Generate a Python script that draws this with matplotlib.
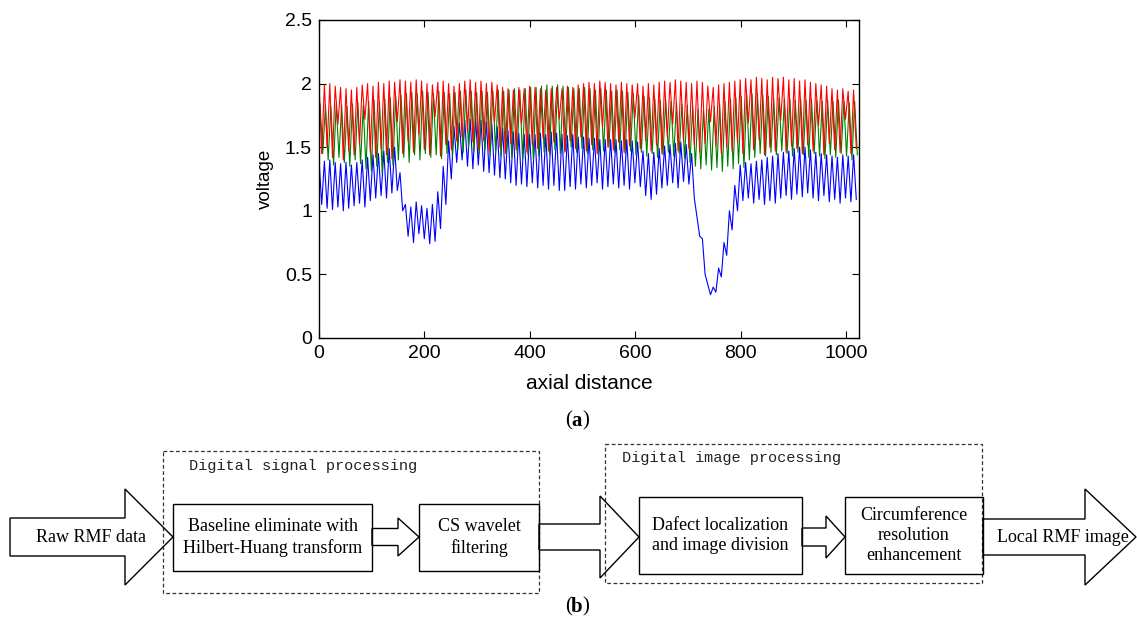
import numpy as np
import matplotlib
matplotlib.use("Agg")
import matplotlib.pyplot as plt
from matplotlib.patches import Polygon, Rectangle
from matplotlib.ticker import FixedLocator, FixedFormatter

# ---------------------------------------------------------------------------
# RMF sensor voltages: per-cycle peak / trough values (100 cycles, 1024 samples)
# ---------------------------------------------------------------------------
blue_high = [
    1.40, 1.39, 1.40, 1.38, 1.37, 1.38, 1.36, 1.38, 1.40, 1.42,
    1.44, 1.45, 1.47, 1.49, 1.50, 1.30, 1.05, 1.03, 1.07, 1.04,
    1.02, 1.05, 1.15, 1.35, 1.55, 1.66, 1.69, 1.71, 1.72, 1.73,
    1.71, 1.70, 1.68, 1.66, 1.65, 1.63, 1.62, 1.61, 1.60, 1.60,
    1.60, 1.61, 1.60, 1.62, 1.61, 1.60, 1.59, 1.60, 1.58, 1.58,
    1.57, 1.57, 1.56, 1.56, 1.56, 1.56, 1.55, 1.56, 1.55, 1.54,
    1.47, 1.45, 1.46, 1.49, 1.51, 1.52, 1.53, 1.54, 1.52, 1.45,
    0.95, 0.78, 0.42, 0.40, 0.55, 0.75, 1.00, 1.20, 1.36, 1.38,
    1.37, 1.39, 1.40, 1.42, 1.43, 1.45, 1.46, 1.47, 1.49, 1.50,
    1.50, 1.48, 1.46, 1.45, 1.44, 1.43, 1.42, 1.44, 1.43, 1.44,
]
blue_low = [
    1.05, 1.02, 1.01, 1.03, 1.00, 1.02, 1.04, 1.06, 1.03, 1.08,
    1.10, 1.12, 1.10, 1.14, 1.16, 1.00, 0.80, 0.75, 0.82, 0.78,
    0.74, 0.76, 0.86, 1.05, 1.25, 1.38, 1.40, 1.35, 1.33, 1.36,
    1.31, 1.30, 1.28, 1.26, 1.25, 1.22, 1.20, 1.21, 1.19, 1.22,
    1.18, 1.20, 1.17, 1.20, 1.16, 1.16, 1.19, 1.17, 1.21, 1.18,
    1.20, 1.22, 1.17, 1.19, 1.21, 1.18, 1.20, 1.17, 1.22, 1.19,
    1.12, 1.09, 1.13, 1.18, 1.20, 1.22, 1.18, 1.23, 1.21, 1.10,
    0.80, 0.50, 0.34, 0.36, 0.48, 0.65, 0.85, 1.00, 1.08, 1.10,
    1.06, 1.09, 1.05, 1.08, 1.06, 1.10, 1.12, 1.09, 1.13, 1.11,
    1.14, 1.10, 1.08, 1.12, 1.07, 1.09, 1.06, 1.10, 1.07, 1.09,
]
green_high = [
    1.84, 1.83, 1.82, 1.84, 1.83, 1.82, 1.84, 1.85, 1.83, 1.86,
    1.87, 1.86, 1.88, 1.89, 1.90, 1.91, 1.92, 1.93, 1.92, 1.94,
    1.93, 1.92, 1.94, 1.93, 1.92, 1.93, 1.94, 1.95, 1.94, 1.93,
    1.94, 1.93, 1.94, 1.95, 1.94, 1.95, 1.96, 1.95, 1.96, 1.97,
    1.97, 1.98, 1.99, 1.98, 1.99, 1.98, 1.97, 1.96, 1.96, 1.97,
    1.96, 1.95, 1.96, 1.95, 1.94, 1.95, 1.94, 1.93, 1.92, 1.91,
    1.90, 1.89, 1.88, 1.87, 1.87, 1.86, 1.85, 1.84, 1.83, 1.82,
    1.80, 1.79, 1.80, 1.82, 1.84, 1.86, 1.88, 1.89, 1.90, 1.91,
    1.92, 1.92, 1.91, 1.90, 1.89, 1.89, 1.88, 1.88, 1.87, 1.88,
    1.87, 1.88, 1.87, 1.86, 1.87, 1.86, 1.87, 1.86, 1.85, 1.86,
]
green_low = [
    1.45, 1.40, 1.36, 1.42, 1.38, 1.35, 1.40, 1.37, 1.33, 1.31,
    1.35, 1.30, 1.38, 1.36, 1.40, 1.42, 1.38, 1.44, 1.40, 1.45,
    1.42, 1.44, 1.41, 1.45, 1.43, 1.48, 1.46, 1.50, 1.47, 1.45,
    1.48, 1.44, 1.47, 1.43, 1.46, 1.42, 1.45, 1.41, 1.44, 1.40,
    1.43, 1.46, 1.44, 1.48, 1.45, 1.47, 1.50, 1.46, 1.49, 1.45,
    1.48, 1.44, 1.47, 1.50, 1.46, 1.48, 1.45, 1.47, 1.44, 1.46,
    1.43, 1.45, 1.42, 1.44, 1.46, 1.43, 1.45, 1.41, 1.38, 1.35,
    1.33, 1.36, 1.32, 1.34, 1.31, 1.35, 1.33, 1.37, 1.34, 1.40,
    1.42, 1.45, 1.43, 1.46, 1.44, 1.47, 1.45, 1.43, 1.46, 1.44,
    1.42, 1.45, 1.43, 1.41, 1.44, 1.42, 1.45, 1.43, 1.40, 1.44,
]
red_high = [
    2.01, 1.99, 2.00, 1.98, 1.97, 1.96, 1.95, 1.97, 1.99, 2.00,
    1.98, 2.01, 2.00, 2.02, 2.01, 2.03, 2.02, 2.01, 2.03, 2.02,
    2.00, 1.99, 2.01, 2.02, 2.00, 1.98, 2.00, 2.02, 2.03, 2.01,
    2.02, 2.00, 2.01, 1.99, 1.97, 1.96, 1.95, 1.97, 1.96, 1.98,
    1.97, 1.96, 1.95, 1.96, 1.97, 1.96, 1.98, 1.97, 1.99, 2.00,
    2.01, 2.00, 2.02, 2.01, 2.00, 1.99, 2.01, 2.00, 1.99, 2.00,
    1.98, 2.00, 1.99, 2.01, 2.02, 2.01, 2.03, 2.02, 2.01, 2.00,
    2.02, 2.01, 1.98, 1.97, 1.99, 2.00, 2.01, 2.02, 2.03, 2.04,
    2.03, 2.05, 2.04, 2.03, 2.05, 2.04, 2.05, 2.03, 2.04, 2.02,
    2.03, 2.01, 2.00, 1.99, 1.98, 1.96, 1.95, 1.96, 1.94, 1.95,
]
red_low = [
    1.45, 1.50, 1.42, 1.68, 1.40, 1.47, 1.44, 1.52, 1.72, 1.46,
    1.42, 1.49, 1.44, 1.41, 1.70, 1.45, 1.55, 1.46, 1.60, 1.48,
    1.44, 1.74, 1.43, 1.52, 1.48, 1.55, 1.58, 1.62, 1.54, 1.48,
    1.55, 1.47, 1.70, 1.50, 1.45, 1.53, 1.48, 1.68, 1.46, 1.52,
    1.49, 1.57, 1.47, 1.54, 1.72, 1.46, 1.55, 1.49, 1.58, 1.47,
    1.52, 1.45, 1.66, 1.50, 1.48, 1.54, 1.46, 1.51, 1.73, 1.49,
    1.55, 1.47, 1.52, 1.45, 1.58, 1.68, 1.47, 1.55, 1.49, 1.52,
    1.46, 1.53, 1.70, 1.51, 1.45, 1.50, 1.47, 1.54, 1.45, 1.69,
    1.48, 1.56, 1.44, 1.50, 1.47, 1.71, 1.46, 1.51, 1.49, 1.45,
    1.52, 1.47, 1.67, 1.44, 1.53, 1.48, 1.46, 1.72, 1.45, 1.49,
]

x_ticks = [0, 200, 400, 600, 800, 1000]
x_tick_labels = ["0", "200", "400", "600", "800", "1000"]
y_ticks = [0, 0.5, 1, 1.5, 2, 2.5]
y_tick_labels = ["0", "0.5", "1", "1.5", "2", "2.5"]

n_samples = 1024

# flowchart stages
stage_texts = [
    "Baseline eliminate with\nHilbert-Huang transform",
    "CS wavelet\nfiltering",
    "Dafect localization\nand image division",
    "Circumference\nresolution\nenhancement",
]
group_titles = ["Digital signal processing", "Digital image processing"]
input_label = "Raw RMF data"
output_label = "Local RMF image"


def zigzag(high, low, offset=0.0):
    """Alternate peak/trough values along the sample axis."""
    n = len(high)
    step = n_samples / n
    idx = np.arange(n) * step + offset
    xs = np.empty(2 * n)
    ys = np.empty(2 * n)
    xs[0::2] = idx
    xs[1::2] = idx + step / 2
    ys[0::2] = high
    ys[1::2] = low
    return xs, ys


W, H, DPI = 1137, 627, 100
fig = plt.figure(figsize=(W / DPI, H / DPI), dpi=DPI)
fig.patch.set_facecolor("white")

# ------------------------------ (a) signal plot ------------------------------
ax = fig.add_axes([319 / W, 1 - 338 / H, (859 - 319) / W, (338 - 20) / H])
for hi, lo, col, off in [
    (blue_high, blue_low, (0, 0, 1), 0.0),
    (green_high, green_low, (0, 0.5, 0), 2.0),
    (red_high, red_low, (1, 0, 0), 0.0),
]:
    xs, ys = zigzag(hi, lo, off)
    ax.plot(xs, ys, color=col, lw=0.8)

ax.set_xlim(0, n_samples)
ax.set_ylim(0, 2.5)
ax.xaxis.set_major_locator(FixedLocator(x_ticks))
ax.xaxis.set_major_formatter(FixedFormatter(x_tick_labels))
ax.yaxis.set_major_locator(FixedLocator(y_ticks))
ax.yaxis.set_major_formatter(FixedFormatter(y_tick_labels))
ax.tick_params(direction="in", length=5, width=0.8, top=True, right=True,
               labelsize=14, colors="black", pad=5)
for lab in ax.get_xticklabels() + ax.get_yticklabels():
    lab.set_family("Liberation Sans")
for sp in ax.spines.values():
    sp.set_linewidth(1.0)
ax.set_xlabel("axial distance", family="Liberation Sans", fontsize=15, labelpad=9)
ax.set_ylabel("voltage", family="Liberation Sans", fontsize=13.5, labelpad=8)

# ------------------------------ (b) flowchart ------------------------------
fc = fig.add_axes([0, 0, 1, 1], zorder=-1)
fc.set_xlim(0, W)
fc.set_ylim(H, 0)
fc.axis("off")

yc = 537
serif = "Liberation Serif"


def block_arrow(x0, xb, xt, body_half, head_half):
    pts = [(x0, yc - body_half), (xb, yc - body_half), (xb, yc - head_half),
           (xt, yc), (xb, yc + head_half), (xb, yc + body_half),
           (x0, yc + body_half)]
    fc.add_patch(Polygon(pts, closed=True, fill=False, ec="black", lw=1.0))


def box(x0, x1, y0, y1, text):
    fc.add_patch(Rectangle((x0, y0), x1 - x0, y1 - y0, fill=False,
                           ec="black", lw=1.0))
    fc.text((x0 + x1) / 2, (y0 + y1) / 2, text, ha="center", va="center",
            family=serif, fontsize=13, linespacing=1.25)


# dashed group frames
fc.add_patch(Rectangle((163, 451), 539 - 163, 593 - 451, fill=False,
                       ec="#333333", lw=0.9, ls=(0, (3, 2))))
fc.add_patch(Rectangle((605, 444), 982 - 605, 583 - 444, fill=False,
                       ec="#333333", lw=0.9, ls=(0, (3, 2))))
fc.text(189, 466, group_titles[0], family="Liberation Mono", fontsize=11,
        ha="left", va="center", color="#222222")
fc.text(622, 458, group_titles[1], family="Liberation Mono", fontsize=11,
        ha="left", va="center", color="#222222")

# processing stages
box(173, 372, 504, 571, stage_texts[0])
box(419, 539, 504, 571, stage_texts[1])
box(639, 802, 497, 574, stage_texts[2])
box(845, 983, 497, 574, stage_texts[3])

# arrows
block_arrow(10, 125, 173, 19, 48)
fc.text(91, yc, input_label, family=serif, fontsize=13, ha="center", va="center")
block_arrow(372, 398, 419, 8.5, 19)
block_arrow(539, 600, 639, 13, 41)
block_arrow(802, 826, 845, 9, 21)
block_arrow(983, 1085, 1136, 18, 48)
fc.text(1063, yc, output_label, family=serif, fontsize=13, ha="center", va="center")

# panel letters
for cx, cy, letter in [(577, 421, "a"), (577, 607, "b")]:
    fc.text(cx - 5, cy, "(", family=serif, fontsize=15, ha="right", va="center")
    fc.text(cx, cy, letter, family=serif, fontsize=15, fontweight="bold",
            ha="center", va="center")
    fc.text(cx + 5, cy, ")", family=serif, fontsize=15, ha="left", va="center")

fig.savefig("out.png", dpi=DPI, facecolor="white")
